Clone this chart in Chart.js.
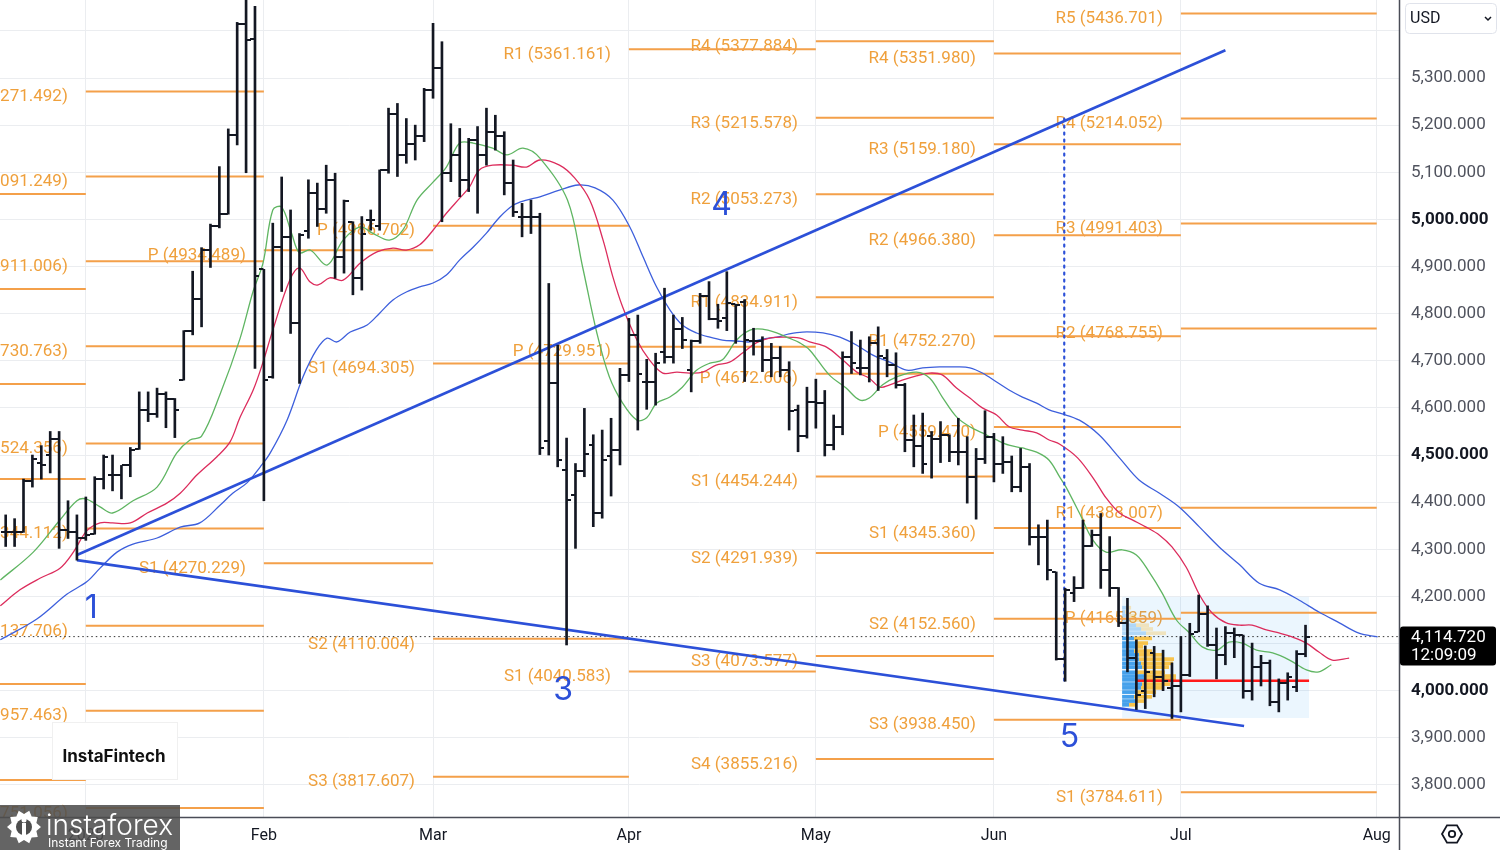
<!DOCTYPE html>
<html lang="en">
<head>
<meta charset="UTF-8">
<title>Daily bars with pivots</title>
<style>
  html, body { margin: 0; padding: 0; background: #fff; }
  canvas { display: block; }
</style>
</head>
<body>
<canvas id="chart" width="1500" height="850"></canvas>
<script src="https://cdn.jsdelivr.net/npm/chart.js"></script>
<script>
// ---- daily bars (index 0 = first bar on screen) ----
const barOpen = [4337,4337,4336,4445,4483,4500,4533,4340,4337,4323,4332,4450,4458,4458,4478,4512,4596,4588,4629,4619,
  4659,4764,4831,4936,4986,5011,5179,5414,5383,4894,4665,4942,4963,4780,4976,5055,5021,5084,4921,4995,
  4875,4999,4985,5104,5224,5137,5161,5177,5275,5321,5098,5137,5084,5168,5137,5186,5176,5077,5005,5005,
  5006,4530,4652,4468,4415,4467,4521,4378,4497,4511,4670,4755,4655,4656,4719,4709,4767,4680,4743,4837,
  4788,4790,4820,4825,4741,4741,4702,4705,4680,4596,4540,4613,4611,4521,4560,4709,4684,4684,4737,4705,
  4691,4649,4532,4520,4540,4535,4543,4507,4507,4454,4491,4539,4482,4486,4432,4475,4327,4327,4252,4067,
  4207,4217,4306,4330,4256,4217,4143,4070,4000,4080,4030,4005,4009,4033,4125,4163,4097,4075,4122,4118,
  4000,4051,4058,3975,4016,4008,4078];
const barHigh = [4373,4365,4449,4500,4520,4550,4550,4403,4373,4411,4454,4500,4500,4478,4516,4634,4634,4642,4634,4620,
  4764,4890,4940,4990,5112,5192,5418,5470,5452,4894,4992,5090,5020,4970,5084,5077,5115,5098,5041,4995,
  5006,5020,5105,5236,5246,5214,5200,5278,5416,5377,5203,5193,5172,5197,5236,5221,5186,5126,5034,5041,
  5013,4864,4733,4536,4482,4599,4543,4553,4578,4684,4790,4797,4703,4716,4854,4797,4792,4744,4843,4868,
  4820,4889,4820,4830,4769,4751,4737,4730,4698,4606,4644,4661,4637,4585,4719,4762,4744,4751,4772,4724,
  4717,4652,4585,4589,4550,4571,4543,4578,4539,4514,4594,4546,4539,4498,4514,4482,4352,4362,4252,4217,
  4242,4362,4341,4376,4327,4219,4196,4108,4095,4094,4086,4059,4115,4143,4203,4180,4133,4136,4133,4118,
  4101,4075,4065,4025,4038,4085,4139];
const barLow = [4306,4306,4336,4432,4449,4462,4302,4323,4277,4319,4332,4428,4424,4407,4454,4512,4571,4580,4558,4537,
  4659,4755,4772,4898,4982,5011,5158,5099,4684,4403,4663,4847,4758,4652,4960,4985,5013,4875,4886,4840,
  4850,4977,4977,5098,5091,5119,5126,5165,5257,4995,5080,5048,5059,5013,5115,5147,5052,5006,4963,4970,
  4501,4500,4475,4097,4302,4454,4348,4366,4413,4479,4656,4553,4597,4606,4695,4695,4726,4634,4737,4787,
  4769,4764,4737,4656,4712,4677,4666,4666,4553,4507,4536,4557,4498,4511,4543,4673,4670,4655,4637,4666,
  4642,4507,4475,4461,4451,4484,4486,4479,4398,4364,4482,4443,4461,4422,4422,4309,4267,4235,4065,4020,
  4189,4217,4306,4217,4200,4136,4040,3960,3962,3987,4000,3941,3955,4030,4125,4094,4025,4055,4070,3984,
  3980,4010,3968,3955,3980,3998,4072];
const barClose = [4337,4337,4445,4491,4478,4533,4340,4337,4323,4330,4450,4495,4458,4478,4510,4596,4588,4629,4619,4596,
  4764,4831,4936,4986,5011,5179,5414,5381,4880,4659,4942,4963,4780,4967,5055,5021,5084,4921,5038,4875,
  4970,4999,5104,5224,5137,5161,5177,5275,5321,5098,5137,5084,5168,5137,5186,5176,5077,5016,5005,5006,
  4515,4652,4490,4405,4467,4502,4378,4490,4511,4670,4755,4673,4655,4695,4709,4767,4744,4743,4837,4788,
  4785,4822,4818,4744,4741,4702,4705,4680,4594,4540,4613,4611,4521,4560,4709,4695,4684,4737,4710,4691,
  4649,4532,4520,4482,4535,4543,4507,4507,4454,4491,4539,4482,4486,4432,4475,4327,4327,4257,4067,4214,
  4217,4306,4330,4256,4217,4143,4070,3991,4040,4030,4020,4009,4033,4120,4163,4097,4075,4122,4118,4000,
  4051,4058,3975,4016,4028,4078,4114.72];
const lastPrice = 4114.72;
const lastTime = '12:09:09';

// ---- shifted moving averages: [bar index, price] ----
const lips = [[-0.6,4235],[3.1,4294],[6.0,4360],[8.0,4403],[9.0,4407],[10.6,4390],[12.0,4377],[14.3,4403],[17.0,4432],
  [19.2,4504],[20.7,4532],[22.0,4540],[24.1,4630],[26.3,4746],[27.8,4848],[28.9,4907],[30.0,5020],[31.0,5026],
  [32.1,4971],[33.0,4929],[34.2,4935],[36.1,4903],[37.9,4956],[39.8,4984],[41.2,4971],[43.1,4956],[44.6,4977],
  [46.2,5041],[48.0,5079],[49.5,5111],[51.0,5162],[52.5,5162],[54.7,5151],[56.3,5137],[58.1,5151],[60.0,5130],
  [63.1,5041],[64.8,4899],[66.4,4759],[67.8,4666],[69.3,4610],[70.9,4574],[72.0,4579],[73.1,4610],[74.6,4623],
  [76.0,4644],[77.6,4680],[79.1,4695],[80.5,4702],[82.1,4744],[83.6,4765],[85.0,4767],[86.6,4759],[88.0,4748],
  [89.2,4738],[90.3,4723],[92.5,4670],[94.4,4642],[95.9,4617],[97.0,4621],[98.5,4649],[100.1,4666],[102.3,4676],
  [103.8,4663],[105.2,4623],[106.8,4581],[108.3,4560],[109.7,4547],[111.3,4532],[112.7,4521],[114.2,4515],
  [115.8,4506],[117.2,4489],[118.4,4453],[119.1,4432],[120.6,4377],[122.1,4320],[123.6,4294],[125.4,4299],
  [127.0,4288],[128.5,4250],[129.9,4207],[131.5,4150],[133.0,4122],[134.4,4093],[136.0,4086],[137.4,4103],
  [138.9,4101],[140.5,4086],[142.3,4080],[144.2,4065],[146.1,4044],[147.5,4040],[148.9,4055]];
const teeth = [[-0.6,4180],[1.6,4214],[3.9,4239],[6.1,4260],[7.6,4294],[9.1,4339],[10.6,4356],[12.0,4356],[14.0,4356],
  [15.9,4377],[18.1,4398],[19.6,4419],[21.5,4458],[23.7,4496],[25.2,4528],[26.3,4579],[27.8,4638],[28.9,4697],
  [30.0,4765],[31.9,4871],[33.0,4897],[34.2,4867],[35.1,4861],[36.4,4876],[37.9,4871],[39.8,4907],[41.7,4931],
  [43.5,4939],[45.0,4935],[46.5,4946],[48.0,4977],[49.5,5013],[51.0,5045],[52.1,5069],[53.2,5105],[54.7,5115],
  [56.9,5115],[58.5,5111],[60.0,5126],[62.2,5115],[63.9,5088],[65.6,5041],[67.1,4956],[68.2,4878],[69.3,4814],
  [70.9,4744],[72.3,4702],[73.8,4674],[75.4,4676],[76.8,4674],[78.3,4676],[79.8,4691],[81.3,4697],[82.8,4717],
  [84.3,4738],[85.8,4748],[87.3,4750],[89.2,4748],[90.3,4740],[92.2,4729],[94.0,4702],[95.6,4676],[97.0,4663],
  [98.2,4644],[99.3,4649],[100.7,4659],[102.3,4668],[103.8,4674],[105.2,4670],[106.8,4642],[108.3,4621],
  [109.7,4600],[111.3,4585],[112.7,4560],[114.2,4553],[115.8,4547],[117.2,4532],[118.4,4523],[120.4,4494],
  [122.3,4447],[123.6,4409],[125.1,4377],[126.6,4362],[128.1,4347],[129.6,4330],[131.0,4305],[132.6,4262],
  [134.1,4203],[135.5,4165],[137.1,4144],[138.6,4139],[140.0,4139],[141.6,4129],[143.1,4122],[144.5,4114],
  [146.1,4101],[147.5,4082],[149.0,4065],[150.9,4069]];
const jaw = [[-0.6,4108],[3.5,4152],[6.9,4205],[9.1,4231],[10.6,4260],[12.5,4294],[14.3,4311],[17.0,4324],[19.6,4347],
  [21.8,4356],[24.1,4394],[25.5,4419],[27.1,4441],[28.6,4475],[29.7,4504],[31.6,4574],[33.4,4666],[34.9,4723],
  [36.1,4748],[37.2,4740],[38.7,4761],[40.6,4776],[42.0,4801],[43.5,4829],[45.0,4846],[46.5,4857],[48.0,4865],
  [49.5,4882],[51.0,4914],[52.5,4941],[54.0,4971],[55.5,5005],[57.0,5030],[58.5,5041],[60.0,5048],[62.2,5062],
  [64.3,5073],[66.2,5067],[68.2,5041],[70.1,4984],[71.6,4920],[73.1,4857],[74.6,4808],[76.0,4776],[77.6,4759],
  [79.1,4750],[80.5,4744],[82.1,4742],[83.6,4740],[85.0,4746],[86.6,4750],[88.0,4757],[89.5,4761],[91.8,4759],
  [93.7,4750],[95.6,4733],[97.4,4712],[99.3,4697],[101.2,4680],[103.0,4685],[104.9,4687],[106.8,4687],
  [108.3,4685],[109.7,4674],[111.3,4655],[112.7,4638],[114.2,4623],[115.8,4610],[117.2,4596],[118.4,4589],
  [120.6,4574],[122.8,4543],[125.1,4494],[127.3,4447],[129.6,4419],[131.8,4390],[134.1,4347],[136.3,4305],
  [138.6,4267],[140.8,4228],[143.1,4214],[145.3,4192],[147.5,4167],[149.8,4144],[152.0,4122],[154.1,4114]];

// ---- monthly pivot levels ----
const monthStart = [-1, 9, 29, 48, 70, 91, 111, 132];
const monthEnd   = [9, 29, 48, 70, 91, 111, 132, 154];
const pivDec = [['R3',5053.900],['R2',4852.300],['R1',4650.700],['P',4449.200],['S2',4014.200],['S3',3810.500]];
const pivJan = [['R4',5271.492],['R3',5091.249],['R2',4911.006],['R1',4730.763],['P',4524.356],['S1',4344.112],['S2',4137.706],['S3',3957.463],['S4',3751.056]];
const pivFeb = [['P',4934.489],['S1',4270.229]];
const pivMar = [['P',4986.702],['S1',4694.305],['S2',4110.004],['S3',3817.607]];
const pivApr = [['R1',5361.161],['P',4729.951],['S1',4040.583]];
const pivMay = [['R4',5377.884],['R3',5215.578],['R2',5053.273],['R1',4834.911],['P',4672.606],['S1',4454.244],['S2',4291.939],['S3',4073.577],['S4',3855.216]];
const pivJun = [['R4',5351.980],['R3',5159.180],['R2',4966.380],['R1',4752.270],['P',4559.470],['S1',4345.360],['S2',4152.560],['S3',3938.450]];
const pivJul = [['R5',5436.701],['R4',5214.052],['R3',4991.403],['R2',4768.755],['R1',4388.007],['P',4165.359],['S1',3784.611]];
const pivots = [pivDec, pivJan, pivFeb, pivMar, pivApr, pivMay, pivJun, pivJul];

// ---- drawings ----
const trendUpper = [[8.0,4288],[137.0,5359]];
const trendLower = [[8.0,4277],[139.1,3925]];
const markerLine = [[118.9,5214],[118.9,4020]];
const waveNames = ['1','3','4','5'];
const waveIdx   = [9.6, 62.6, 80.4, 119.5];
const wavePrice = [4175, 4001, 5030, 3900];

// ---- volume profile of the last range ----
const vpRange = [125.4, 146.4, 3942, 4199];   // from bar, to bar, low, high
const vpPoc = 4021;
const vpPrice = [4176,4167,4159,4150,4139,4131,4122,4111,4101,4093,4084,4076,4067,4058,4050,4039,4031,4023,4014,4006,3997,3987,3978,3970];
const vpUp    = [4,3,6,8,14,19,24,12,14,14,12,17,17,19,20,15,22,24,20,19,14,12,14,7];
const vpDown  = [5,4,8,12,13,12,20,18,12,7,18,25,35,32,27,28,32,30,28,23,20,18,10,7];

// ---- axes ----
const monthTicks = [9, 29, 48, 70, 91, 111, 132, 154];
const monthNames = ['2025','Feb','Mar','Apr','May','Jun','Jul','Aug'];
const yTicks = [3800,3900,4000,4100,4200,4300,4400,4500,4600,4700,4800,4900,5000,5100,5200,5300,5400];

const BLUE = '#2c50d8';
const ORANGE = '#f4a04a';
const FONT = 'Roboto, "Noto Sans", sans-serif';

function tickImg(left) {
  const c = document.createElement('canvas');
  c.width = 9; c.height = 2;
  const g = c.getContext('2d');
  g.fillStyle = '#131722';
  g.fillRect(left ? 0 : 5, 0, 4, 2);
  return c;
}

const pivotData = [];
pivots.forEach((levels, m) => levels.forEach(([, v]) => {
  pivotData.push({x: monthStart[m], y: v}, {x: monthEnd[m], y: v}, {x: monthEnd[m], y: null});
}));
const pts = arr => arr.map(([x, y]) => ({x, y}));

function roundRect(ctx, x, y, w, h, r) {
  ctx.beginPath();
  ctx.moveTo(x + r, y);
  ctx.arcTo(x + w, y, x + w, y + h, r);
  ctx.arcTo(x + w, y + h, x, y + h, r);
  ctx.arcTo(x, y + h, x, y, r);
  ctx.arcTo(x, y, x + w, y, r);
  ctx.closePath();
}

const overlay = {
  id: 'overlay',
  beforeDatasetsDraw(chart) {
    const {ctx, chartArea: a} = chart;
    const x = chart.scales.x, y = chart.scales.y;
    ctx.save();
    ctx.beginPath();
    ctx.rect(a.left, a.top, a.right - a.left, a.bottom - a.top);
    ctx.clip();

    // pivot labels, right aligned before each month's segment
    ctx.font = '17px ' + FONT;
    ctx.fillStyle = '#efa03c';
    ctx.textAlign = 'right';
    ctx.textBaseline = 'middle';
    pivots.forEach((levels, m) => levels.forEach(([n, v]) => {
      ctx.fillText(n + ' (' + v.toFixed(3) + ')', x.getPixelForValue(monthStart[m]) - 18, y.getPixelForValue(v) + 5.5);
    }));

    // volume profile box and rows
    const bx0 = x.getPixelForValue(vpRange[0]), bx1 = x.getPixelForValue(vpRange[1]);
    const by0 = y.getPixelForValue(vpRange[3]), by1 = y.getPixelForValue(vpRange[2]);
    ctx.fillStyle = 'rgba(33,150,243,0.09)';
    ctx.fillRect(bx0, by0, bx1 - bx0, by1 - by0);
    const unit = 0.112;
    vpPrice.forEach((p, i) => {
      const faded = p > 4115;
      const top = y.getPixelForValue(p + 3.9), bot = y.getPixelForValue(p - 3.9);
      const xu = x.getPixelForValue(vpRange[0] + vpUp[i] * unit);
      const xd = x.getPixelForValue(vpRange[0] + (vpUp[i] + vpDown[i]) * unit);
      ctx.fillStyle = faded ? 'rgba(41,146,232,0.3)' : 'rgba(41,146,232,0.85)';
      ctx.fillRect(bx0, top, xu - bx0, bot - top);
      ctx.fillStyle = faded ? 'rgba(250,186,44,0.3)' : 'rgba(250,186,44,0.85)';
      ctx.fillRect(xu, top, xd - xu, bot - top);
    });
    ctx.restore();
  },
  afterDatasetsDraw(chart) {
    const {ctx} = chart;
    const x = chart.scales.x, y = chart.scales.y;
    ctx.save();
    ctx.font = '32px Inter';
    ctx.fillStyle = BLUE;
    ctx.textAlign = 'center';
    ctx.textBaseline = 'middle';
    waveNames.forEach((t, i) => ctx.fillText(t, x.getPixelForValue(waveIdx[i]), y.getPixelForValue(wavePrice[i])));
    ctx.restore();
  },
  afterDraw(chart) {
    const {ctx, chartArea: a} = chart;
    const y = chart.scales.y;
    const W = chart.width, H = chart.height;
    ctx.save();
    // axis borders
    ctx.strokeStyle = '#4a4d57';
    ctx.lineWidth = 1.5;
    ctx.beginPath();
    ctx.moveTo(a.right + 0.5, 0); ctx.lineTo(a.right + 0.5, H);
    ctx.moveTo(0, a.bottom + 0.5); ctx.lineTo(W, a.bottom + 0.5);
    ctx.stroke();

    // currency selector
    roundRect(ctx, 1405.5, 3.5, 91, 30, 4);
    ctx.fillStyle = '#fff'; ctx.fill();
    ctx.strokeStyle = '#e0e3eb'; ctx.lineWidth = 1; ctx.stroke();
    ctx.fillStyle = '#131722';
    ctx.font = '16px ' + FONT;
    ctx.textAlign = 'left'; ctx.textBaseline = 'middle';
    ctx.fillText('USD', 1410, 19);
    ctx.beginPath();
    ctx.moveTo(1485, 17); ctx.lineTo(1488, 20); ctx.lineTo(1491, 17);
    ctx.lineWidth = 1.5; ctx.strokeStyle = '#131722'; ctx.stroke();

    // last price label
    const py = y.getPixelForValue(lastPrice);
    roundRect(ctx, a.right + 1, py - 10, 96, 39, 3);
    ctx.fillStyle = '#000'; ctx.fill();
    ctx.fillStyle = '#fff';
    ctx.font = '17px ' + FONT;
    ctx.fillText(lastPrice.toLocaleString('en-US', {minimumFractionDigits: 3}), a.right + 12, py + 1);
    ctx.fillText(lastTime, a.right + 12, py + 19);

    // settings icon
    ctx.beginPath();
    for (let k = 0; k < 6; k++) {
      const ang = Math.PI / 3 * k;
      const px = 1452 + 10 * Math.cos(ang), pyy = 834 + 10 * Math.sin(ang);
      k ? ctx.lineTo(px, pyy) : ctx.moveTo(px, pyy);
    }
    ctx.closePath();
    ctx.strokeStyle = '#131722'; ctx.lineWidth = 1.8; ctx.stroke();
    ctx.beginPath(); ctx.arc(1452, 834, 3.2, 0, Math.PI * 2); ctx.stroke();

    // watermark box
    ctx.fillStyle = '#fff';
    ctx.fillRect(52, 722, 126, 58);
    ctx.strokeStyle = '#f0f0f0'; ctx.lineWidth = 1;
    ctx.strokeRect(52.5, 722.5, 125, 57);
    ctx.fillStyle = '#111';
    ctx.font = 'bold 17px Inter';
    ctx.textAlign = 'center';
    ctx.fillText('InstaFintech', 114, 757);

    // logo
    ctx.fillStyle = 'rgba(78,78,78,0.88)';
    ctx.fillRect(0, 805, 180, 45);
    ctx.fillStyle = '#fff';
    ctx.beginPath();
    const gx = 24, gy = 827;
    for (let k = 0; k < 20; k++) {
      const r = k % 2 ? 13 : 17;
      const ang = Math.PI * 2 * k / 20;
      const px = gx + r * Math.cos(ang), pyy = gy + r * Math.sin(ang);
      k ? ctx.lineTo(px, pyy) : ctx.moveTo(px, pyy);
    }
    ctx.closePath(); ctx.fill();
    ctx.fillStyle = 'rgba(78,78,78,1)';
    ctx.beginPath(); ctx.arc(gx, gy, 8, 0, Math.PI * 2); ctx.fill();
    ctx.fillStyle = '#fff';
    ctx.fillRect(gx - 2, gy - 4, 4, 12);
    ctx.beginPath(); ctx.arc(gx, gy - 7, 2.5, 0, Math.PI * 2); ctx.fill();
    ctx.textAlign = 'left'; ctx.textBaseline = 'alphabetic';
    ctx.font = '300 28px Inter';
    ctx.fillText('instaforex', 46, 835);
    ctx.font = '12px Inter';
    ctx.fillText('Instant Forex Trading', 48, 847);
    ctx.restore();
  }
};

Chart.defaults.font.family = FONT;

new Chart(document.getElementById('chart'), {
  type: 'bar',
  data: {
    datasets: [
      { type: 'scatter', data: barOpen.map((v, i) => ({x: i, y: v})), pointStyle: tickImg(true), pointRadius: 3, pointHoverRadius: 3, order: 0 },
      { type: 'scatter', data: barClose.map((v, i) => ({x: i, y: v})), pointStyle: tickImg(false), pointRadius: 3, pointHoverRadius: 3, order: 0 },
      { type: 'bar', data: barHigh.map((v, i) => ({x: i, y: [barLow[i], v]})), backgroundColor: '#131722', barThickness: 2, order: 1 },
      { type: 'line', data: pts([[vpRange[0] + 1.6, vpPoc], [vpRange[1], vpPoc]]), borderColor: '#ff1a1a', borderWidth: 2.6, pointRadius: 0, order: 2 },
      { type: 'line', data: pts(trendUpper), borderColor: BLUE, borderWidth: 2.6, pointRadius: 0, order: 3 },
      { type: 'line', data: pts(trendLower), borderColor: BLUE, borderWidth: 2.6, pointRadius: 0, order: 3 },
      { type: 'line', data: pts(markerLine), borderColor: BLUE, borderWidth: 2.2, borderDash: [2, 5], borderCapStyle: 'round', pointRadius: 0, order: 3 },
      { type: 'line', data: pts(lips), borderColor: '#5fb562', borderWidth: 1.3, pointRadius: 0, tension: 0.35, order: 5 },
      { type: 'line', data: pts(teeth), borderColor: '#dc2c5c', borderWidth: 1.3, pointRadius: 0, tension: 0.35, order: 5 },
      { type: 'line', data: pts(jaw), borderColor: '#3d5fdc', borderWidth: 1.3, pointRadius: 0, tension: 0.35, order: 5 },
      { type: 'line', data: pts([[-1, lastPrice], [157, lastPrice]]), borderColor: '#333', borderWidth: 1, borderDash: [1.5, 3], pointRadius: 0, order: 6 },
      { type: 'line', data: pivotData, borderColor: ORANGE, borderWidth: 2, pointRadius: 0, spanGaps: false, order: 10 }
    ]
  },
  options: {
    responsive: false,
    animation: false,
    events: [],
    layout: { padding: 0, autoPadding: false },
    plugins: { legend: { display: false }, tooltip: { enabled: false } },
    scales: {
      x: {
        type: 'linear', min: -0.64, max: 156.5, offset: false,
        grid: { color: '#ebedf0', offset: false, drawTicks: false },
        border: { display: false },
        afterBuildTicks: s => { s.ticks = monthTicks.map(v => ({value: v})); },
        afterFit: s => { s.height = 33; s.paddingLeft = 0; s.paddingRight = 0; },
        ticks: {
          autoSkip: false, maxRotation: 0, padding: 9,
          color: '#131722', font: { size: 16 },
          callback: v => monthNames[monthTicks.indexOf(v)]
        }
      },
      y: {
        type: 'linear', position: 'right', min: 3732.0, max: 5465.5,
        grid: { color: '#ebedf0', drawTicks: false },
        border: { display: false },
        afterBuildTicks: s => { s.ticks = yTicks.map(v => ({value: v})); },
        afterFit: s => { s.width = 101; s.paddingTop = 0; s.paddingBottom = 0; },
        ticks: {
          padding: 12,
          font: c => ({ size: 17, weight: c.tick && c.tick.value % 500 === 0 ? '700' : '400' }),
          color: c => (c.tick && c.tick.value % 500 === 0 ? '#131722' : '#50535e'),
          callback: v => (v === 5400 ? '' : v.toLocaleString('en-US', {minimumFractionDigits: 3}))
        }
      }
    }
  },
  plugins: [overlay]
});
</script>
</body>
</html>
